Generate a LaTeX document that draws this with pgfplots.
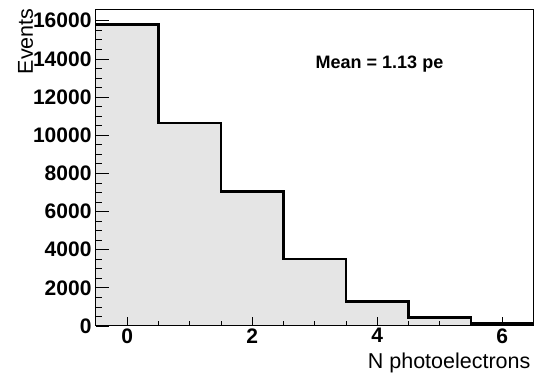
\documentclass[border=0pt]{standalone}
\usepackage{fontspec}
\setmainfont{Liberation Sans}
\usepackage{pgfplots}
\pgfplotsset{compat=1.18}
\definecolor{histfill}{RGB}{229,229,229}
\begin{document}
\begin{tikzpicture}
\begin{axis}[
  scale only axis,
  width=437.5pt, height=316.5pt,
  xmin=-0.5, xmax=6.5, ymin=0, ymax=16590,
  xtick={0,2,4,6}, minor x tick num=3,
  ytick={0,2000,4000,6000,8000,10000,12000,14000,16000}, minor y tick num=3,
  scaled y ticks=false,
  tick pos=left, tick align=inside,
  /pgf/number format/1000 sep={},
  /pgf/number format/assume math mode=true,
  ticklabel style={font=\fontsize{21}{21}\selectfont\bfseries},
  yticklabel style={xshift=-1pt},
  xticklabel style={yshift=1pt},
  x tick style={black, line width=0.8pt},
  y tick style={black, line width=0.8pt},
  xtick/.append style={},
  major tick length=13pt, minor tick length=6.5pt,
  x tick style={/pgfplots/major tick length=9pt,/pgfplots/minor tick length=5pt},
  axis line style={black, line width=1pt},
  axis on top,
  clip=false,
]
\addplot[const plot, fill=histfill, draw=none] coordinates {
  (-0.5,15810) (0.5,10640) (1.5,7060) (2.5,3510) (3.5,1280) (4.5,450) (5.5,140) (6.5,140)
} \closedcycle;
\addplot[const plot, draw=black, line width=2.4pt] coordinates {
  (-0.5,15810) (0.5,10640) (1.5,7060) (2.5,3510) (3.5,1280) (4.5,450) (5.5,140) (6.5,140)
};
\node[font=\fontsize{18}{18}\selectfont\bfseries, anchor=base] at (axis description cs:0.648,0.815) {Mean = 1.13 pe};
\node[font=\fontsize{21.5}{21.5}\selectfont, anchor=base east] at ([yshift=-42pt]axis description cs:1.001,0) {N photoelectrons};
\node[font=\fontsize{21.5}{21.5}\selectfont, rotate=90, anchor=base east] at ([xshift=-63pt,yshift=4.5pt]axis description cs:0,1) {Events};
\coordinate (BL) at (axis description cs:0,0);
\coordinate (TR) at (axis description cs:1,1);
\end{axis}
\path ([shift={(-96pt,-48pt)}]BL) rectangle ([shift={(9.5pt,9.5pt)}]TR);
\end{tikzpicture}
\end{document}
